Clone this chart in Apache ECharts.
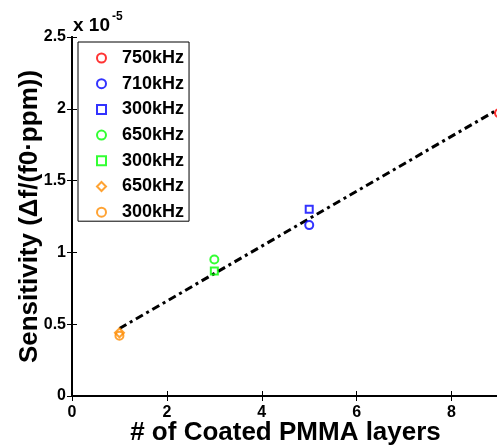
<!DOCTYPE html>
<html>
<head>
<meta charset="utf-8">
<script src="https://cdn.jsdelivr.net/npm/echarts@6/dist/echarts.min.js"></script>
<style>
  html, body { margin: 0; padding: 0; background: #fff; }
  #chart { width: 497px; height: 446px; }
</style>
</head>
<body>
<div id="chart"></div>
<script>
  // values are in units of 1e-5
  const legendNames = ['750kHz', '710kHz', '300kHz ', '650kHz', '300kHz  ', '650kHz ', '300kHz   ']
  const pointX = [9, 5, 5, 3, 3, 1, 1]
  const pointY = [1.97, 1.19, 1.30, 0.95, 0.87, 0.44, 0.42]
  const pointColors = ['#ff0000', '#0000ff', '#0000ff', '#00ff00', '#00ff00', '#ff8c00', '#ff8c00']
  const pointSymbols = ['circle', 'circle', 'rect', 'circle', 'rect', 'diamond', 'circle']
  const fitX = [1, 9]
  const fitY = [0.47, 2.0]
  const xTicks = [0, 2, 4, 6, 8]
  const yTicks = [0, 0.5, 1, 1.5, 2, 2.5]

  const font = 'Liberation Sans'
  const chart = echarts.init(document.getElementById('chart'))

  const sizes = { circle: 8, rect: 7, diamond: 9 }

  const series = legendNames.map((name, i) => ({
    name: name,
    type: 'scatter',
    symbol: pointSymbols[i],
    symbolSize: sizes[pointSymbols[i]],
    clip: false,
    itemStyle: {
      color: 'rgba(255,255,255,0)',
      borderColor: pointColors[i],
      borderWidth: 2
    },
    z: 3,
    data: [[pointX[i], pointY[i]]]
  }))

  series.push({
    name: 'fit',
    type: 'line',
    symbol: 'none',
    z: 2,
    lineStyle: {
      color: '#000',
      width: 3,
      type: [8, 4, 3, 4]
    },
    data: fitX.map((x, i) => [x, fitY[i]])
  })

  const tickLabel = {
    color: '#000',
    fontFamily: font,
    fontWeight: 'bold',
    fontSize: 16
  }

  const titleStyle = {
    color: '#000',
    fontFamily: font,
    fontWeight: 'bold',
    fontSize: 26
  }

  chart.setOption({
    backgroundColor: '#fff',
    animation: false,
    grid: {
      left: 72,
      right: -2,
      top: 37,
      bottom: 50,
      outerBoundsMode: 'none'
    },
    legend: {
      orient: 'vertical',
      left: 78,
      top: 42,
      data: legendNames,
      formatter: name => name.trim(),
      itemWidth: 9,
      itemHeight: 9,
      itemGap: 7.7,
      padding: [7, 5, 0, 18],
      borderColor: '#000',
      borderWidth: 1,
      backgroundColor: '#fff',
      textStyle: {
        color: '#000',
        fontFamily: font,
        fontWeight: 'bold',
        fontSize: 18,
        padding: [0, 0, 0, 11]
      }
    },
    graphic: [{
      type: 'text',
      left: 73,
      top: 11,
      style: {
        text: '{a|x 10}{b|-5}',
        rich: {
          a: { fontFamily: font, fontWeight: 'bold', fontSize: 19, fill: '#000', verticalAlign: 'bottom' },
          b: { fontFamily: font, fontWeight: 'bold', fontSize: 12, fill: '#000', verticalAlign: 'top', padding: [0, 0, 12, 2] }
        }
      }
    }],
    xAxis: [{
      type: 'value',
      min: 0,
      max: 9,
      interval: 2,
      name: '# of Coated PMMA layers',
      nameLocation: 'middle',
      nameGap: 24,
      nameMoveOverlap: false,
      nameTextStyle: titleStyle,
      axisLine: { show: true, lineStyle: { color: '#000', width: 2 } },
      axisTick: { show: true, inside: true, length: 5, customValues: xTicks, lineStyle: { color: '#000', width: 1 } },
      axisLabel: Object.assign({ margin: 9, customValues: xTicks }, tickLabel),
      splitLine: { show: false }
    }, {
      type: 'value',
      position: 'top',
      min: 0,
      max: 9,
      interval: 2,
      axisLine: { show: true, lineStyle: { color: '#000', width: 2 } },
      axisTick: { show: true, inside: true, length: 5, customValues: xTicks, lineStyle: { color: '#000', width: 1 } },
      axisLabel: { show: false },
      splitLine: { show: false }
    }],
    yAxis: [{
      type: 'value',
      min: 0,
      max: 2.5,
      interval: 0.5,
      name: 'Sensitivity (\u0394f/(f0\u00b7ppm))',
      nameLocation: 'middle',
      nameGap: 29,
      nameMoveOverlap: false,
      nameTextStyle: titleStyle,
      axisLine: { show: true, lineStyle: { color: '#000', width: 2 } },
      axisTick: { show: true, inside: true, length: 5, lineStyle: { color: '#000', width: 1 } },
      axisLabel: Object.assign({ margin: 6, customValues: yTicks }, tickLabel),
      splitLine: { show: false }
    }, {
      type: 'value',
      position: 'right',
      min: 0,
      max: 2.5,
      interval: 0.5,
      axisLine: { show: true, lineStyle: { color: '#000', width: 2 } },
      axisTick: { show: true, inside: true, length: 5, lineStyle: { color: '#000', width: 1 } },
      axisLabel: { show: false },
      splitLine: { show: false }
    }],
    series: series
  })
</script>
</body>
</html>
